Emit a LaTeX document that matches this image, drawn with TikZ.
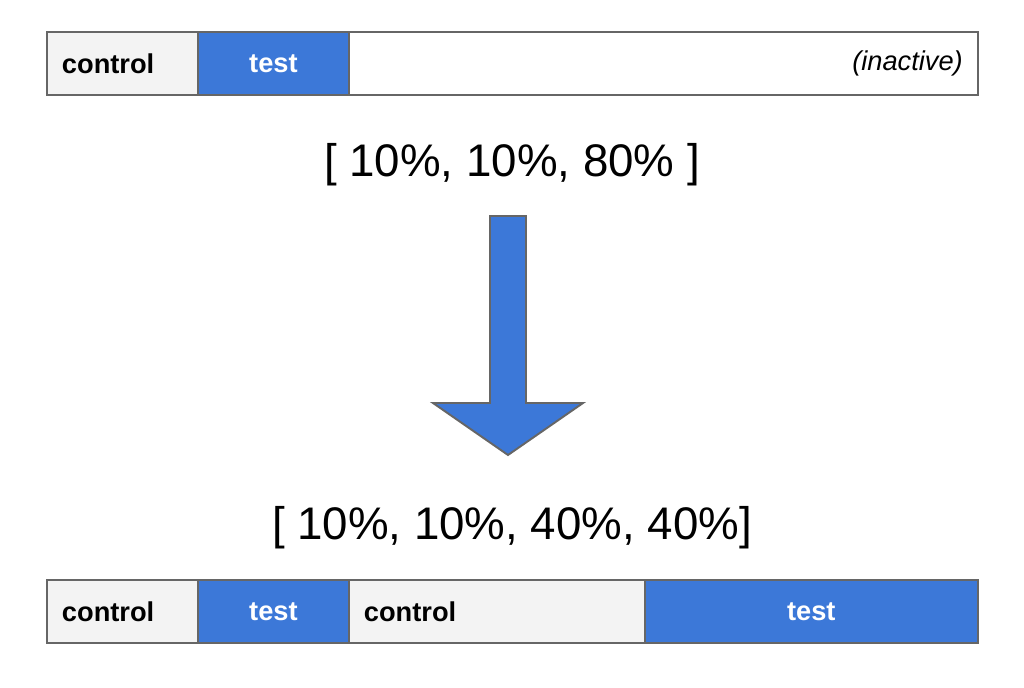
\documentclass[tikz,border=0pt]{standalone}
\usepackage{fontspec}
\setmainfont{Liberation Sans}
\definecolor{testblue}{HTML}{3C78D8}
\definecolor{cellgray}{HTML}{F3F3F3}
\definecolor{edgegray}{HTML}{666666}
\usetikzlibrary{positioning}

\begin{document}
\begin{tikzpicture}[x=0.02cm, y=-0.02cm,
      cell/.style={draw=edgegray, line width=1.1pt, minimum height=1.26cm,
                   inner xsep=0.3cm, outer sep=0pt,
                   font=\fontsize{15.5}{18}\selectfont\bfseries},
      ctrl/.style={cell, fill=cellgray, align=left},
      tst/.style={cell, fill=testblue, text=white, align=center},
      inact/.style={cell, fill=white, align=right,
                    font=\fontsize{15.5}{18}\selectfont\itshape},
      split/.style={font=\fontsize{26}{30}\selectfont},
      bigarr/.style={fill=testblue, draw=edgegray, line width=1.1pt, line join=miter}
    ]
      \useasboundingbox (0,0) rectangle (1024,687);

      % before: one test, rest inactive
      \node[ctrl, text width=2.42cm, anchor=north west] (ctl_a) at (47,32) {control};
      \node[tst, text width=2.42cm, right=0pt of ctl_a] (tst_a) {test};
      \node[inact, text width=11.98cm, right=0pt of tst_a] (off_a) {(inactive)};

      \node[split] (old) at (512,165) {[ 10\%, 10\%, 80\% ]};

      \draw[bigarr] (490,216) -- (526,216) -- (526,403) -- (583,403)
        -- (508,455) -- (433,403) -- (490,403) -- cycle;

      \node[split] (new) at (512,528) {[ 10\%, 10\%, 40\%, 40\%]};

      % after: inactive part split in two
      \node[ctrl, text width=2.42cm, anchor=north west] (ctl_b) at (47,580) {control};
      \node[tst, text width=2.42cm, right=0pt of ctl_b] (tst_b) {test};
      \node[ctrl, text width=5.32cm, right=0pt of tst_b] (ctl_c) {control};
      \node[tst, text width=6.06cm, right=0pt of ctl_c] (tst_c) {test};
    \end{tikzpicture}
\end{document}
